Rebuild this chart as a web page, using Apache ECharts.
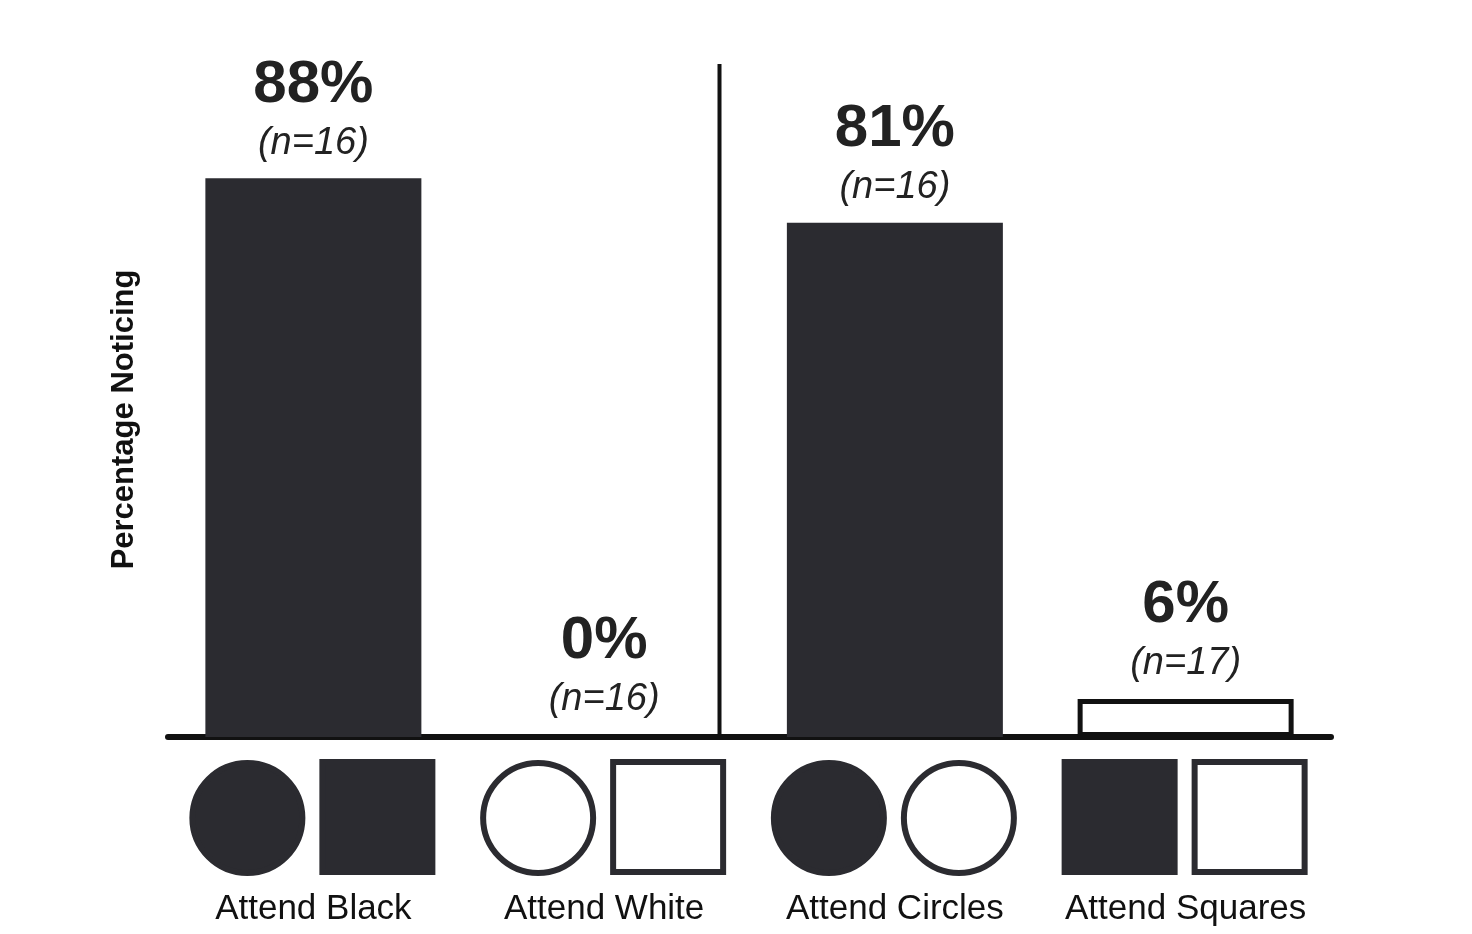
<!DOCTYPE html>
<html><head><meta charset="utf-8">
<script src="https://cdn.jsdelivr.net/npm/echarts@6/dist/echarts.min.js"></script>
<style>html,body{margin:0;background:#fff}#c{width:1472px;height:934px}</style>
</head><body><div id="c"></div>
<script>
const categories = ['Attend Black', 'Attend White', 'Attend Circles', 'Attend Squares'];
const values = [88, 0, 81, 6];
const nLabels = ['n=16', 'n=16', 'n=16', 'n=17'];
const barFill = ['#2b2b30', '#ffffff', '#2b2b30', '#ffffff'];
// stimulus icons under each category: [shape, filled]
const icons = [
  [['circle', true], ['rect', true]],
  [['circle', false], ['rect', false]],
  [['circle', true], ['circle', false]],
  [['rect', true], ['rect', false]]
];
const dark = '#2b2b30';
const chart = echarts.init(document.getElementById('c'));
chart.setOption({
  animation: false,
  grid: { left: 168, right: 141, top: 102, bottom: 197 },
  xAxis: {
    type: 'category', data: categories,
    axisLine: { lineStyle: { color: '#111', width: 6 } },
    axisTick: { show: false },
    axisLabel: { interval: 0, margin: 155, fontSize: 35, color: '#111', fontFamily: 'Liberation Sans' }
  },
  yAxis: {
    type: 'value', min: 0, max: 100, show: true,
    axisLine: { show: false }, axisTick: { show: false }, axisLabel: { show: false },
    splitLine: { show: false },
    name: 'Percentage Noticing', nameLocation: 'middle', nameGap: 28,
    nameTextStyle: { fontSize: 31, fontWeight: 'bold', color: '#111', fontFamily: 'Liberation Sans' }
  },
  series: [{
    type: 'bar', barWidth: 216,
    data: values.map((v, i) => ({
      value: v,
      itemStyle: { color: barFill[i], borderColor: v > 0 ? '#111' : 'transparent', borderWidth: barFill[i] === '#ffffff' ? 5 : 0 },
      label: { formatter: '{a|' + v + '%}\n{b|(' + nLabels[i] + ')}' }
    })),
    label: {
      show: true, position: 'top', distance: 12,
      rich: {
        a: { fontSize: 60, fontWeight: 'bold', color: '#222', fontFamily: 'Liberation Sans', lineHeight: 70 },
        b: { fontSize: 38, fontStyle: 'italic', color: '#222', fontFamily: 'Liberation Sans', lineHeight: 46 }
      }
    }
  }]
});
const g = [];
const offs = [-66, 64];
categories.forEach((c, i) => {
  const [cx] = chart.convertToPixel({ xAxisIndex: 0, yAxisIndex: 0 }, [i, 0]);
  icons[i].forEach(([shape, filled], k) => {
    const x = cx + offs[k], y = 818;
    const style = { fill: filled ? dark : '#fff', stroke: dark, lineWidth: 6 };
    if (shape === 'circle') g.push({ type: 'circle', shape: { cx: x, cy: y, r: 55 }, style });
    else g.push({ type: 'rect', shape: { x: x - 55, y: y - 56, width: 110, height: 110 }, style });
  });
});
const [x1] = chart.convertToPixel({ xAxisIndex: 0, yAxisIndex: 0 }, [1, 0]);
const [x2] = chart.convertToPixel({ xAxisIndex: 0, yAxisIndex: 0 }, [2, 0]);
const dx = (x1 + x2) / 2 - 30;
const [, yTop] = chart.convertToPixel({ xAxisIndex: 0, yAxisIndex: 0 }, [0, 106]);
const [, yBot] = chart.convertToPixel({ xAxisIndex: 0, yAxisIndex: 0 }, [0, 0]);
g.push({ type: 'line', shape: { x1: dx, y1: yTop, x2: dx, y2: yBot }, style: { stroke: '#111', lineWidth: 4 } });
chart.setOption({ graphic: g });
</script></body></html>
